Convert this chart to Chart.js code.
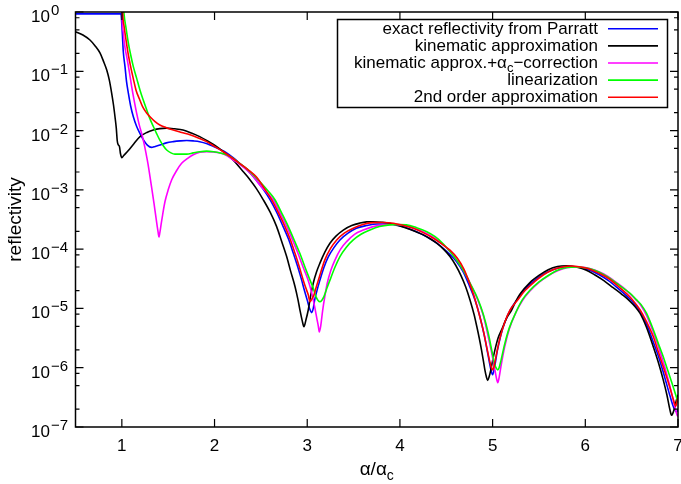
<!DOCTYPE html>
<html>
<head>
<meta charset="utf-8">
<script src="https://cdn.jsdelivr.net/npm/chart.js@4.4.1/dist/chart.umd.min.js"></script>
<style>
  html, body { margin: 0; padding: 0; background: #fff; }
  canvas { display: block; }
</style>
</head>
<body>
<canvas id="c" width="681" height="484"></canvas>
<script>
// Axis ticks
const xTicks = [1, 2, 3, 4, 5, 6, 7];
const yExponents = [0, -1, -2, -3, -4, -5, -6, -7];
const yMinorMantissas = [2, 5, 8];

// Series: [alpha/alpha_c, reflectivity]
const parratt = [
  [0.5,0.93],[0.99,0.93],[1.005,0.44],[1.015,0.22],[1.034,0.12],[1.05,0.068],[1.07,0.043],
  [1.095,0.026],[1.124,0.0171],[1.16,0.0117],[1.196,0.0089],[1.235,0.0069],[1.275,0.0057],
  [1.32,0.0052],[1.36,0.0054],[1.41,0.0057],[1.48,0.0062],[1.555,0.0065],[1.63,0.0067],
  [1.70,0.0068],[1.77,0.0067],[1.84,0.0065],[1.92,0.0060],[1.99,0.0054],[2.06,0.0048],
  [2.13,0.0042],[2.2,0.0035],[2.27,0.0028],[2.35,0.0022],[2.42,0.00166],[2.52,0.00105],
  [2.6,6.8e-4],[2.67,4.2e-4],[2.74,2.4e-4],[2.8,1.45e-4],[2.85,8.5e-5],[2.9,4.9e-5],
  [2.94,3.0e-5],[2.97,2.0e-5],[3.0,1.38e-5],[3.025,1.0e-5],[3.048,8.5e-6],[3.065,1.0e-5],
  [3.08,1.38e-5],[3.105,2.0e-5],[3.137,3.0e-5],[3.18,4.9e-5],[3.227,7.4e-5],[3.29,1.07e-4],
  [3.353,1.43e-4],[3.44,1.86e-4],[3.53,2.25e-4],[3.64,2.5e-4],[3.75,2.66e-4],[3.86,2.66e-4],
  [3.965,2.57e-4],[4.07,2.3e-4],[4.18,1.97e-4],[4.29,1.62e-4],[4.40,1.26e-4],[4.47,1.02e-4],
  [4.54,8.1e-5],[4.61,6.2e-5],[4.68,4.2e-5],[4.75,2.4e-5],[4.81,1.39e-5],[4.86,7.6e-6],
  [4.91,3.5e-6],[4.95,1.66e-6],[4.98,9.5e-7],[5.0,7.6e-7],[5.02,1.0e-6],[5.05,1.9e-6],
  [5.09,3.6e-6],[5.14,6.3e-6],[5.2,1.0e-5],[5.27,1.45e-5],[5.35,2.1e-5],[5.45,2.95e-5],
  [5.55,3.8e-5],[5.65,4.5e-5],[5.75,4.95e-5],[5.85,5.1e-5],[5.95,4.9e-5],[6.05,4.4e-5],
  [6.15,3.7e-5],[6.25,2.95e-5],[6.35,2.2e-5],[6.45,1.6e-5],[6.52,1.25e-5],[6.59,9.0e-6],
  [6.66,5.5e-6],[6.73,2.8e-6],[6.8,1.38e-6],[6.86,6.6e-7],[6.91,3.5e-7],[6.95,2.2e-7],
  [6.985,1.8e-7],[7.0,2.0e-7]
];

const kinematic = [
  [0.5,0.466],[0.58,0.41],[0.656,0.337],[0.71,0.27],[0.764,0.204],[0.80,0.15],[0.837,0.105],
  [0.865,0.071],[0.89,0.043],[0.91,0.027],[0.926,0.0171],[0.94,0.011],[0.95,0.0068],
  [0.96,0.0058],[0.975,0.0053],[0.985,0.0041],[1.0,0.0035],[1.02,0.0038],[1.07,0.0046],
  [1.13,0.006],[1.196,0.0079],[1.27,0.0093],[1.34,0.0102],[1.41,0.0108],[1.48,0.011],
  [1.57,0.0107],[1.66,0.0102],[1.75,0.0091],[1.84,0.0079],[1.93,0.0066],[2.02,0.0054],
  [2.11,0.0042],[2.2,0.0032],[2.29,0.0022],[2.38,0.0015],[2.45,0.00106],[2.526,6.8e-4],
  [2.6,4.2e-4],[2.67,2.4e-4],[2.72,1.41e-4],[2.778,7.5e-5],[2.82,4.3e-5],[2.868,2.35e-5],
  [2.9,1.41e-5],[2.922,9.3e-6],[2.945,6.3e-6],[2.965,4.9e-6],[2.985,6.3e-6],[3.011,9.4e-6],
  [3.035,1.58e-5],[3.065,2.66e-5],[3.1,4.1e-5],[3.137,5.8e-5],[3.19,8.9e-5],[3.245,1.26e-4],
  [3.31,1.66e-4],[3.389,2.1e-4],[3.48,2.5e-4],[3.569,2.75e-4],[3.64,2.88e-4],[3.71,2.9e-4],
  [3.8,2.85e-4],[3.89,2.74e-4],[3.98,2.5e-4],[4.073,2.25e-4],[4.16,2.0e-4],[4.252,1.74e-4],
  [4.33,1.48e-4],[4.396,1.26e-4],[4.47,1.0e-4],[4.54,7.5e-5],[4.6,5.4e-5],[4.66,3.55e-5],
  [4.71,2.3e-5],[4.756,1.39e-5],[4.8,7.9e-6],[4.83,4.9e-6],[4.855,3.2e-6],[4.88,2.0e-6],
  [4.9,1.32e-6],[4.917,9.1e-7],[4.932,7.1e-7],[4.947,6.1e-7],[4.963,7.1e-7],[4.98,9.1e-7],
  [5.0,1.32e-6],[5.025,2.0e-6],[5.06,3.2e-6],[5.098,4.4e-6],[5.15,6.8e-6],[5.205,9.4e-6],
  [5.25,1.32e-5],[5.3,1.78e-5],[5.4,2.7e-5],[5.5,3.6e-5],[5.6,4.5e-5],[5.7,5.1e-5],
  [5.8,5.25e-5],[5.9,5.0e-5],[6.0,4.5e-5],[6.1,3.7e-5],[6.2,2.95e-5],[6.3,2.24e-5],
  [6.4,1.7e-5],[6.48,1.33e-5],[6.54,1.06e-5],[6.59,8.3e-6],[6.66,4.8e-6],[6.733,2.26e-6],
  [6.79,1.2e-6],[6.84,6.3e-7],[6.88,3.5e-7],[6.913,1.95e-7],[6.93,1.58e-7],[6.95,1.8e-7],
  [6.985,2.9e-7],[7.0,3.5e-7]
];

const kinematicCorrected = [
  [0.998,3],[1.002,0.95],[1.016,0.44],[1.034,0.25],[1.052,0.178],[1.08,0.1],[1.106,0.055],
  [1.133,0.032],[1.16,0.0195],[1.187,0.0126],[1.214,0.0089],[1.238,0.0062],[1.26,0.0042],
  [1.283,0.0027],[1.304,0.00166],[1.326,9.8e-4],[1.347,5.9e-4],[1.365,3.7e-4],[1.382,2.4e-4],
  [1.392,1.9e-4],[1.40,1.6e-4],[1.41,1.9e-4],[1.42,2.4e-4],[1.44,3.8e-4],[1.465,6.3e-4],
  [1.50,1.0e-3],[1.538,1.48e-3],[1.59,2.1e-3],[1.645,2.8e-3],[1.71,3.4e-3],[1.77,3.9e-3],
  [1.84,4.3e-3],[1.915,4.4e-3],[1.99,4.35e-3],[2.06,4.2e-3],[2.13,3.8e-3],[2.2,3.2e-3],
  [2.27,2.7e-3],[2.35,2.14e-3],[2.42,1.66e-3],[2.49,1.2e-3],[2.56,9.1e-4],[2.634,6.8e-4],
  [2.71,4.0e-4],[2.78,2.4e-4],[2.84,1.45e-4],[2.90,8.5e-5],[2.955,5.0e-5],[3.01,3.0e-5],
  [3.05,1.78e-5],[3.08,1.07e-5],[3.105,6.6e-6],[3.12,5.0e-6],[3.13,4.0e-6],[3.145,5.0e-6],
  [3.167,9.4e-6],[3.19,1.6e-5],[3.216,2.66e-5],[3.255,4.4e-5],[3.30,6.6e-5],[3.36,1.0e-4],
  [3.425,1.34e-4],[3.51,1.78e-4],[3.605,2.1e-4],[3.71,2.4e-4],[3.82,2.57e-4],[3.93,2.6e-4],
  [4.036,2.57e-4],[4.14,2.3e-4],[4.25,1.97e-4],[4.35,1.62e-4],[4.45,1.26e-4],[4.54,9.1e-5],
  [4.62,6.3e-5],[4.69,4.25e-5],[4.76,2.6e-5],[4.84,1.39e-5],[4.9,7.6e-6],[4.95,3.5e-6],
  [4.99,1.78e-6],[5.02,1.0e-6],[5.04,6.8e-7],[5.055,5.6e-7],[5.07,6.8e-7],[5.09,1.05e-6],
  [5.13,2.24e-6],[5.18,4.5e-6],[5.25,8.5e-6],[5.32,1.35e-5],[5.4,1.95e-5],[5.5,2.75e-5],
  [5.6,3.55e-5],[5.7,4.3e-5],[5.8,4.85e-5],[5.9,5.0e-5],[6.0,4.9e-5],[6.1,4.45e-5],
  [6.2,3.8e-5],[6.3,3.0e-5],[6.4,2.3e-5],[6.48,1.78e-5],[6.55,1.38e-5],[6.6,1.12e-5],
  [6.66,7.6e-6],[6.733,4.0e-6],[6.79,2.24e-6],[6.84,1.26e-6],[6.88,7.6e-7],[6.93,3.8e-7],
  [6.96,2.4e-7],[6.99,1.6e-7],[7.0,1.5e-7]
];

const linearization = [
  [1.0,4],[1.023,0.95],[1.045,0.54],[1.07,0.30],[1.095,0.19],[1.124,0.12],[1.16,0.076],
  [1.196,0.048],[1.23,0.033],[1.268,0.0224],[1.30,0.0162],[1.34,0.0117],[1.375,0.0089],
  [1.41,0.0069],[1.445,0.0056],[1.484,0.0047],[1.53,0.0042],[1.573,0.004],[1.64,0.004],
  [1.70,0.004],[1.77,0.0042],[1.84,0.0044],[1.915,0.0045],[1.99,0.0044],[2.06,0.0042],
  [2.13,0.0039],[2.2,0.0034],[2.27,0.0028],[2.35,0.00226],[2.42,0.00178],[2.5,0.00132],
  [2.58,9.5e-4],[2.652,6.8e-4],[2.72,4.2e-4],[2.796,2.4e-4],[2.86,1.41e-4],[2.92,8.5e-5],
  [2.975,5.0e-5],[3.03,3.0e-5],[3.065,2.2e-5],[3.094,1.58e-5],[3.115,1.38e-5],[3.137,1.3e-5],
  [3.158,1.38e-5],[3.18,1.58e-5],[3.21,2.14e-5],[3.245,3.0e-5],[3.3,5.0e-5],[3.353,7.5e-5],
  [3.42,1.07e-4],[3.497,1.43e-4],[3.58,1.78e-4],[3.677,2.1e-4],[3.78,2.4e-4],[3.89,2.57e-4],
  [3.98,2.6e-4],[4.07,2.57e-4],[4.18,2.3e-4],[4.29,1.97e-4],[4.38,1.62e-4],[4.46,1.26e-4],
  [4.54,9.1e-5],[4.62,6.3e-5],[4.69,4.25e-5],[4.76,2.6e-5],[4.845,1.39e-5],[4.9,7.9e-6],
  [4.95,4.0e-6],[4.99,2.0e-6],[5.02,1.17e-6],[5.04,9.8e-7],[5.055,9.2e-7],[5.07,1.0e-6],
  [5.09,1.32e-6],[5.13,2.5e-6],[5.18,4.7e-6],[5.25,8.5e-6],[5.32,1.39e-5],[5.4,2.0e-5],
  [5.5,2.8e-5],[5.6,3.6e-5],[5.7,4.4e-5],[5.8,4.9e-5],[5.9,5.0e-5],[6.0,4.85e-5],
  [6.1,4.4e-5],[6.2,3.7e-5],[6.3,2.95e-5],[6.4,2.24e-5],[6.48,1.82e-5],[6.55,1.41e-5],
  [6.6,1.17e-5],[6.66,8.3e-6],[6.733,4.4e-6],[6.79,2.5e-6],[6.84,1.55e-6],[6.88,1.0e-6],
  [6.93,5.8e-7],[6.975,3.5e-7],[7.0,2.6e-7]
];

const secondOrder = [
  [1.0,4],[1.009,0.99],[1.025,0.56],[1.045,0.34],[1.07,0.19],[1.095,0.12],[1.123,0.076],
  [1.153,0.048],[1.19,0.034],[1.225,0.025],[1.265,0.02],[1.304,0.0171],[1.355,0.0143],
  [1.41,0.0124],[1.48,0.0112],[1.555,0.0102],[1.645,0.0093],[1.735,0.0085],[1.825,0.0075],
  [1.915,0.0065],[2.0,0.0054],[2.094,0.0044],[2.18,0.00355],[2.27,0.0028],[2.36,0.0022],
  [2.45,0.00166],[2.53,0.0011],[2.617,6.8e-4],[2.69,4.1e-4],[2.76,2.4e-4],[2.82,1.41e-4],
  [2.868,8.5e-5],[2.915,5.0e-5],[2.957,3.0e-5],[2.99,2.1e-5],[3.011,1.7e-5],[3.03,1.3e-5],
  [3.05,1.45e-5],[3.073,1.7e-5],[3.095,2.24e-5],[3.12,3.0e-5],[3.19,6.6e-5],[3.25,1.02e-4],
  [3.318,1.43e-4],[3.4,1.86e-4],[3.497,2.25e-4],[3.6,2.6e-4],[3.71,2.8e-4],[3.82,2.82e-4],
  [3.93,2.74e-4],[4.04,2.5e-4],[4.144,2.25e-4],[4.25,1.9e-4],[4.36,1.53e-4],[4.45,1.23e-4],
  [4.54,9.6e-5],[4.62,7.0e-5],[4.69,4.6e-5],[4.75,2.7e-5],[4.8,1.6e-5],[4.85,8.5e-6],
  [4.9,4.2e-6],[4.94,2.1e-6],[4.97,1.26e-6],[4.99,9.8e-7],[5.0,9.2e-7],[5.015,1.05e-6],
  [5.04,1.66e-6],[5.08,3.2e-6],[5.13,5.8e-6],[5.19,9.5e-6],[5.27,1.39e-5],[5.35,2.0e-5],
  [5.45,2.8e-5],[5.55,3.7e-5],[5.65,4.5e-5],[5.75,5.0e-5],[5.85,5.2e-5],[5.95,5.0e-5],
  [6.05,4.6e-5],[6.15,3.9e-5],[6.25,3.2e-5],[6.35,2.4e-5],[6.45,1.74e-5],[6.51,1.39e-5],
  [6.59,9.5e-6],[6.66,6.0e-6],[6.733,3.35e-6],[6.79,1.8e-6],[6.84,1.05e-6],[6.89,6.0e-7],
  [6.913,4.6e-7],[6.95,2.9e-7],[6.975,2.25e-7],[6.99,2.7e-7],[7.0,3.2e-7]
];

const seriesLabels = [
  'exact reflectivity from Parratt',
  'kinematic approximation',
  'kinematic approx.+α_c−correction',
  'linearization',
  '2nd order approximation'
];
const seriesColors = ['#0000ff', '#000000', '#ff00ff', '#00ff00', '#ff0000'];
const seriesData = [parratt, kinematic, kinematicCorrected, linearization, secondOrder];

const FONT = '"Liberation Sans", Arial, Helvetica, sans-serif';

// Draws text where "_x" makes x a subscript
function drawRich(ctx, text, x, y, size, align) {
  const parts = [];
  const re = /_(.)/g;
  let last = 0, m;
  while ((m = re.exec(text))) {
    if (m.index > last) parts.push({ t: text.slice(last, m.index), sub: false });
    parts.push({ t: m[1], sub: true });
    last = m.index + 2;
  }
  if (last < text.length) parts.push({ t: text.slice(last), sub: false });
  const subSize = Math.round(size * 0.75);
  let total = 0;
  parts.forEach(p => {
    ctx.font = (p.sub ? subSize : size) + 'px ' + FONT;
    p.w = ctx.measureText(p.t).width;
    total += p.w;
  });
  let cx = align === 'right' ? x - total : align === 'center' ? x - total / 2 : x;
  ctx.textAlign = 'left';
  ctx.textBaseline = 'alphabetic';
  parts.forEach(p => {
    ctx.font = (p.sub ? subSize : size) + 'px ' + FONT;
    ctx.fillText(p.t, cx, p.sub ? y + size * 0.25 : y);
    cx += p.w;
  });
}

const axisFrame = {
  id: 'axisFrame',
  afterDatasetsDraw(chart) {
    const { ctx, chartArea: a, scales: { x, y } } = chart;
    ctx.save();
    ctx.strokeStyle = '#000';
    ctx.fillStyle = '#000';

    // ticks (inward, mirrored on all sides)
    ctx.lineWidth = 1.2;
    ctx.beginPath();
    xTicks.forEach(v => {
      const px = x.getPixelForValue(v);
      ctx.moveTo(px, a.bottom); ctx.lineTo(px, a.bottom - 8);
      ctx.moveTo(px, a.top); ctx.lineTo(px, a.top + 8);
    });
    yExponents.forEach(e => {
      const py = y.getPixelForValue(Math.pow(10, e));
      ctx.moveTo(a.left, py); ctx.lineTo(a.left + 8, py);
      ctx.moveTo(a.right, py); ctx.lineTo(a.right - 8, py);
    });
    yExponents.slice(1).forEach(e => {
      yMinorMantissas.forEach(mant => {
        const py = y.getPixelForValue(mant * Math.pow(10, e));
        ctx.moveTo(a.left, py); ctx.lineTo(a.left + 4, py);
        ctx.moveTo(a.right, py); ctx.lineTo(a.right - 4, py);
      });
    });
    ctx.stroke();

    // border
    ctx.lineWidth = 1.5;
    ctx.strokeRect(a.left, a.top, a.right - a.left, a.bottom - a.top);

    // x tick labels
    ctx.font = '17px ' + FONT;
    ctx.textAlign = 'center';
    ctx.textBaseline = 'alphabetic';
    xTicks.forEach(v => ctx.fillText(String(v), x.getPixelForValue(v), a.bottom + 24));

    // y tick labels: 10 with superscript exponent
    yExponents.forEach(e => {
      const py = y.getPixelForValue(Math.pow(10, e));
      ctx.font = '17px ' + FONT;
      ctx.textAlign = 'right';
      ctx.fillText('10', 50, py + 10);
      ctx.font = '15px ' + FONT;
      ctx.textAlign = 'left';
      ctx.fillText(e === 0 ? '0' : '−' + Math.abs(e), 51, py + 3);
    });

    // axis titles
    ctx.save();
    ctx.translate(21, (a.top + a.bottom) / 2);
    ctx.rotate(-Math.PI / 2);
    ctx.font = '19px ' + FONT;
    ctx.textAlign = 'center';
    ctx.textBaseline = 'alphabetic';
    ctx.fillText('reflectivity', 0, 0);
    ctx.restore();
    drawRich(ctx, 'α/α_c', (a.left + a.right) / 2, 475, 19, 'center');

    // key
    const keyLeft = 337.5, keyTop = 19.5, keyW = 330, keyH = 88;
    ctx.lineWidth = 1.5;
    ctx.strokeStyle = '#000';
    ctx.strokeRect(keyLeft, keyTop, keyW, keyH);
    seriesLabels.forEach((lab, i) => {
      const ry = 28.8 + 17.1 * i;
      ctx.fillStyle = '#000';
      drawRich(ctx, lab, 598, ry + 5, 17, 'right');
      ctx.strokeStyle = seriesColors[i];
      ctx.lineWidth = 1.6;
      ctx.beginPath();
      ctx.moveTo(608, ry); ctx.lineTo(658, ry);
      ctx.stroke();
    });
    ctx.restore();
  }
};

new Chart(document.getElementById('c'), {
  type: 'line',
  data: {
    datasets: seriesData.map((pts, i) => ({
      label: seriesLabels[i],
      data: pts.map(([px, py]) => ({ x: px, y: py })),
      borderColor: seriesColors[i],
      borderWidth: 1.6,
      pointRadius: 0,
      fill: false,
      cubicInterpolationMode: 'monotone',
      order: seriesData.length - i
    }))
  },
  options: {
    responsive: false,
    animation: false,
    events: [],
    layout: { padding: { left: 0, right: 3, top: 12, bottom: 0 } },
    plugins: { legend: { display: false }, tooltip: { enabled: false } },
    scales: {
      x: {
        type: 'linear', min: 0.5, max: 7,
        grid: { display: false }, border: { display: false },
        ticks: { display: false },
        afterFit(s) { s.height = 57; }
      },
      y: {
        type: 'logarithmic', min: 1e-7, max: 1,
        grid: { display: false }, border: { display: false },
        ticks: { display: false },
        afterFit(s) { s.width = 75.5; }
      }
    }
  },
  plugins: [axisFrame]
});
</script>
</body>
</html>
